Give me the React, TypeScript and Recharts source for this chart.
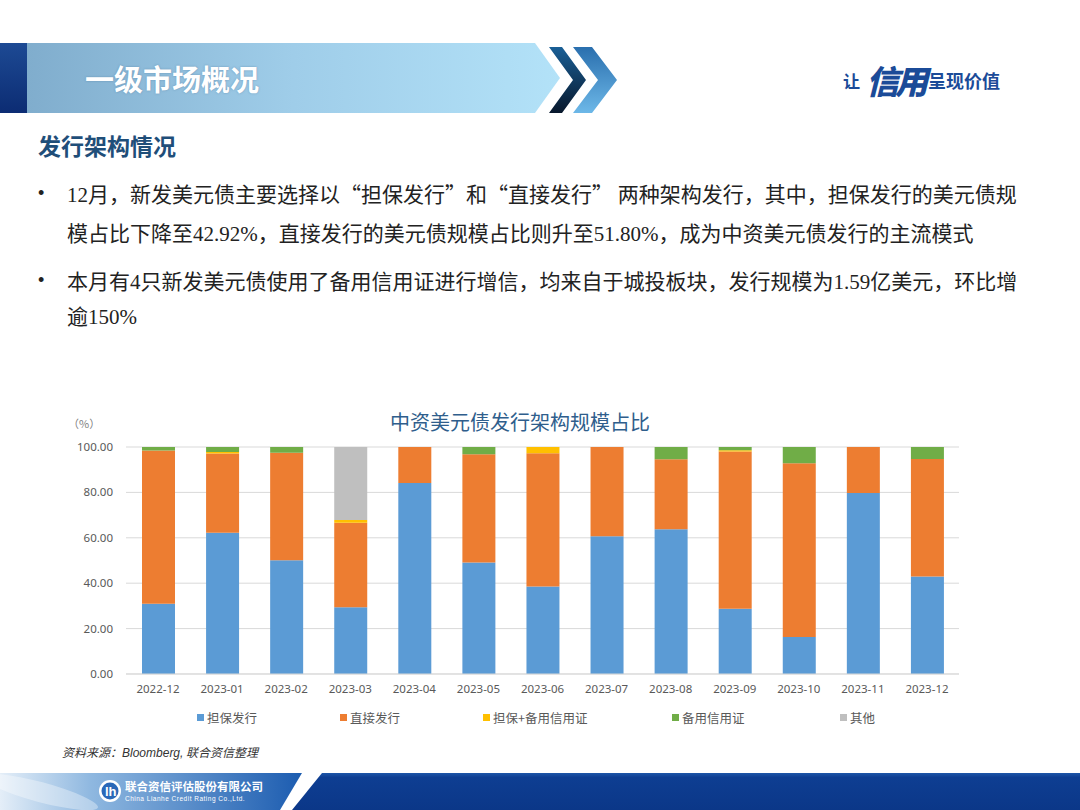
import React from 'react';
import { BarChart, Bar, XAxis, YAxis, CartesianGrid, Legend } from 'recharts';

const categories = ['2022-12', '2023-01', '2023-02', '2023-03', '2023-04', '2023-05', '2023-06', '2023-07', '2023-08', '2023-09', '2023-10', '2023-11', '2023-12'];
const guaranteed = [31.0, 62.2, 50.1, 29.4, 84.1, 49.1, 38.5, 60.7, 63.8, 28.7, 16.3, 79.7, 42.92];
const direct = [67.5, 34.9, 47.4, 37.2, 15.9, 47.7, 58.7, 39.3, 30.8, 69.3, 76.5, 20.3, 51.8];
const guaranteedSblc = [0, 0.7, 0, 1.2, 0, 0, 2.8, 0, 0, 0.6, 0, 0, 0];
const sblc = [1.5, 2.2, 2.5, 0, 0, 3.2, 0, 0, 5.4, 1.4, 7.2, 0, 5.28];
const other = [0, 0, 0, 32.2, 0, 0, 0, 0, 0, 0, 0, 0, 0];
const yTicks = [0, 20, 40, 60, 80, 100];

const seriesNames = ['担保发行', '直接发行', '担保+备用信用证', '备用信用证', '其他'];
const seriesKeys = ['s0', 's1', 's2', 's3', 's4'];
const seriesColors = ['#5B9BD5', '#ED7D31', '#FFC000', '#70AD47', '#BFBFBF'];
const seriesValues = [guaranteed, direct, guaranteedSblc, sblc, other];

// layout only: width of each legend column
const legendColumnWidths = [143, 143, 189, 168, 60];

const data = categories.map((c, i) => {
  const row: any = { cat: c };
  seriesKeys.forEach((k, j) => {
    row[k] = seriesValues[j][i];
  });
  return row;
});

const CJK = "'Noto Sans CJK SC', 'Noto Sans', sans-serif";
const SERIF = "'Liberation Serif', 'DejaVu Serif', serif";

const mix = (s: string) =>
  s.split(/([0-9.%]+)/).map((p, i) =>
    /[0-9]/.test(p) ? (
      <span key={i} style={{ fontFamily: SERIF }}>{p}</span>
    ) : (
      <React.Fragment key={i}>{p}</React.Fragment>
    )
  );

const bodyLines = [
  { text: '12月，新发美元债主要选择以“担保发行”和“直接发行” 两种架构发行，其中，担保发行的美元债规', y: 193, bullet: true },
  { text: '模占比下降至42.92%，直接发行的美元债规模占比则升至51.80%，成为中资美元债发行的主流模式', y: 232, bullet: false },
  { text: '本月有4只新发美元债使用了备用信用证进行增信，均来自于城投板块，发行规模为1.59亿美元，环比增', y: 280, bullet: true },
  { text: '逾150%', y: 315, bullet: false },
];

const renderLegend = () => (
  <div
    style={{
      display: 'flex',
      height: 24,
      alignItems: 'center',
      paddingLeft: 137,
      fontFamily: CJK,
      fontSize: 12.5,
      color: '#595959',
    }}
  >
    {seriesNames.map((n, i) => (
      <div key={n} style={{ display: 'flex', alignItems: 'center', whiteSpace: 'nowrap', width: legendColumnWidths[i], flex: 'none' }}>
        <span style={{ width: 7, height: 7, background: seriesColors[i], marginRight: 3, display: 'inline-block' }} />
        {n}
      </div>
    ))}
  </div>
);

export default function App() {
  return (
    <div style={{ position: 'absolute', left: 0, top: 0, width: 1080, height: 810, overflow: 'hidden', background: '#fff', fontFamily: CJK }}>
      <svg width={1080} height={810} style={{ position: 'absolute', left: 0, top: 0 }}>
        <defs>
          <linearGradient id="band" x1="0" y1="0" x2="1" y2="0">
            <stop offset="0" stopColor="#80adcd" />
            <stop offset="0.5" stopColor="#9fcde9" />
            <stop offset="1" stopColor="#b3e2f8" />
          </linearGradient>
          <linearGradient id="navy" x1="0" y1="0" x2="0" y2="1">
            <stop offset="0" stopColor="#1d4a94" />
            <stop offset="1" stopColor="#0c2c73" />
          </linearGradient>
          <linearGradient id="chev1" x1="0" y1="0" x2="0" y2="1">
            <stop offset="0" stopColor="#1a5f96" />
            <stop offset="1" stopColor="#08182c" />
          </linearGradient>
          <linearGradient id="chev2" x1="0" y1="0" x2="0" y2="1">
            <stop offset="0" stopColor="#2a6fae" />
            <stop offset="1" stopColor="#6db8e8" />
          </linearGradient>
          <linearGradient id="foot" x1="0" y1="0" x2="1" y2="0">
            <stop offset="0" stopColor="#e4eef8" />
            <stop offset="0.3" stopColor="#8fb8e0" />
            <stop offset="1" stopColor="#1c5cb0" />
          </linearGradient>
          <linearGradient id="dark" x1="0" y1="0" x2="0" y2="1">
            <stop offset="0" stopColor="#1d56a8" />
            <stop offset="0.12" stopColor="#0e3e92" />
            <stop offset="1" stopColor="#0b3788" />
          </linearGradient>
        </defs>
        <polygon points="27,43 535,43 560,78 535,113 27,113" fill="url(#band)" />
        <rect x={0} y={43} width={27} height={70} fill="url(#navy)" />
        <polygon points="549,47 562,47 586,80 562,113 549,113 573,80" fill="url(#chev1)" />
        <polygon points="573,47 592,47 617,80 592,113 573,113 598,80" fill="url(#chev2)" />
        <polygon points="0,773 302,773 280,810 0,810" fill="url(#foot)" />
        <ellipse cx={40} cy={792} rx={60} ry={10} fill="#ffffff" opacity={0.35} transform="rotate(15 40 792)" />
        <polygon points="322,773 1080,773 1080,810 292,810" fill="url(#dark)" />
        <circle cx={110} cy={791} r={11} fill="#ffffff" />
        <circle cx={110} cy={791} r={8.5} fill="#2a68b8" />
        <text x={105} y={796} fontSize={13} fontWeight={700} fill="#fff" fontFamily="'Liberation Sans', sans-serif">lh</text>
      </svg>

      <div style={{ position: 'absolute', left: 85, top: 58, fontSize: 29, fontWeight: 700, color: '#fff', lineHeight: '40px', textShadow: '0 0 2px rgba(60,100,140,0.5)' }}>
        一级市场概况
      </div>
      <div style={{ position: 'absolute', left: 843, top: 58, height: 44, display: 'flex', alignItems: 'center', color: '#1b4b98', whiteSpace: 'nowrap' }}>
        <span style={{ fontSize: 17, fontWeight: 700 }}>让</span>
        <span style={{ fontSize: 33, fontWeight: 900, fontStyle: 'italic', margin: '0 4px 0 6px', letterSpacing: -4 }}>信用</span>
        <span style={{ fontSize: 18, fontWeight: 700 }}>呈现价值</span>
      </div>

      <div style={{ position: 'absolute', left: 38, top: 129, fontSize: 23, fontWeight: 700, color: '#1f4e79', lineHeight: '32px' }}>
        发行架构情况
      </div>

      {bodyLines.map((l) => (
        <div key={l.y} style={{ position: 'absolute', left: 67, top: l.y - 15, lineHeight: '30px', fontSize: 21, color: '#222', whiteSpace: 'nowrap', fontFamily: CJK }}>
          {mix(l.text)}
        </div>
      ))}
      {bodyLines.filter((l) => l.bullet).map((l) => (
        <div key={'b' + l.y} style={{ position: 'absolute', left: 38, top: l.y - 15, lineHeight: '30px', fontSize: 18, color: '#222', fontFamily: "'Liberation Sans', sans-serif" }}>
          •
        </div>
      ))}

      <div style={{ position: 'absolute', left: 0, width: 1040, top: 408, textAlign: 'center', fontSize: 20, color: '#2f5e8c', lineHeight: '28px' }}>
        中资美元债发行架构规模占比
      </div>
      <div style={{ position: 'absolute', left: 68, top: 414, fontSize: 11, color: '#7f7f7f', lineHeight: '18px' }}>（%）</div>

      <div style={{ position: 'absolute', left: 60, top: 400 }}>
        <BarChart width={920} height={340} data={data} margin={{ top: 47, right: 21, left: 0, bottom: 11 }}>
          <CartesianGrid vertical={false} stroke="#d9d9d9" />
          <XAxis
            dataKey="cat"
            height={31}
            tickLine={false}
            axisLine={{ stroke: '#d9d9d9' }}
            tickMargin={5}
            tick={{ fill: '#595959', fontSize: 11.5, fontFamily: "'Noto Sans', sans-serif" }}
            interval={0}
          />
          <YAxis
            width={66}
            domain={[0, 100]}
            ticks={yTicks}
            allowDataOverflow
            tickLine={false}
            axisLine={false}
            tickMargin={7}
            tickFormatter={(v: number) => v.toFixed(2)}
            tick={{ fill: '#595959', fontSize: 11.5, fontFamily: "'Noto Sans', sans-serif" }}
          />
          <Legend verticalAlign="bottom" height={24} content={renderLegend} wrapperStyle={{ height: 24 }} />
          {seriesKeys.map((k, j) => (
            <Bar key={k} dataKey={k} name={seriesNames[j]} stackId="a" fill={seriesColors[j]} barSize={33} isAnimationActive={false} />
          ))}
        </BarChart>
      </div>

      <div style={{ position: 'absolute', left: 62, top: 743, fontSize: 12, fontStyle: 'italic', color: '#333', lineHeight: '18px' }}>
        资料来源：<span style={{ fontFamily: "'Liberation Sans Narrow', 'Liberation Sans', sans-serif" }}>Bloomberg,</span> 联合资信整理
      </div>

      <div style={{ position: 'absolute', left: 125, top: 779, color: '#fff', whiteSpace: 'nowrap' }}>
        <div style={{ fontSize: 11.5, fontWeight: 700, lineHeight: '15px' }}>联合资信评估股份有限公司</div>
        <div style={{ fontSize: 6.5, lineHeight: '9px', fontFamily: "'Liberation Sans', sans-serif", letterSpacing: 0.5 }}>China Lianhe Credit Rating Co.,Ltd.</div>
      </div>
    </div>
  );
}
